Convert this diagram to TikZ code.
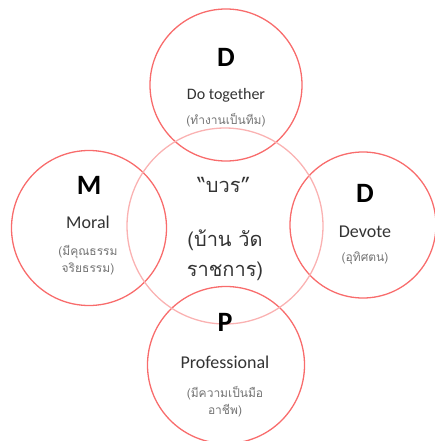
\documentclass[tikz,border=0pt]{standalone}
\usepackage{fontspec}
\setmainfont{Carlito}
\newfontfamily\thaifont[Script=Thai]{Loma}
\definecolor{RingRed}{RGB}{248,108,108}
\definecolor{CoreRed}{RGB}{250,178,178}

\begin{document}
\begin{tikzpicture}[x=1pt, y=-1pt]
  \tikzset{
    RingStyle/.style = { circle, draw = RingRed, line width = 1.3pt,
      inner sep = 0pt },
    LetterStyle/.style = { font = \fontsize{28}{30}\selectfont\bfseries,
      text = black },
    WordStyle/.style = { font = \fontsize{18}{20}\selectfont,
      text = black!80 },
    ThaiStyle/.style = { font = \thaifont\fontsize{12}{17}\selectfont,
      text = black!55, align = center },
    CoreStyle/.style = { font = \thaifont\fontsize{20}{30}\selectfont,
      text = black!80, align = center } }
  \useasboundingbox (0,0) rectangle (434,441);

  % the four outer rings and the middle one
  \node[RingStyle, minimum size = 152pt] (ringTop) at (226,85) {};
  \node[RingStyle, minimum size = 155pt] (ringLeft) at (89,228) {};
  \node[RingStyle, minimum size = 146pt] (ringRight) at (363,225) {};
  \node[RingStyle, minimum size = 157pt] (ringBottom) at (226,365) {};
  \node[RingStyle, draw = CoreRed, minimum size = 196pt] (ringCore) at (225,226) {};

  % top: D
  \node[LetterStyle] (letterTop) at (226,57) {D};
  \node[WordStyle, font = \fontsize{16}{18}\selectfont] (wordTop) at (226,95) {Do together};
  \node[ThaiStyle] (thaiTop) at (226,120) {(ทำงานเป็นทีม)};

  % left: M
  \node[LetterStyle] (letterLeft) at (89,185) {M};
  \node[WordStyle] (wordLeft) at (88,222) {Moral};
  \node[ThaiStyle] (thaiLeft) at (88,260) {(มีคุณธรรม\\จริยธรรม)};

  % right: D
  \node[LetterStyle] (letterRight) at (365,193) {D};
  \node[WordStyle] (wordRight) at (365,232) {Devote};
  \node[ThaiStyle] (thaiRight) at (365,258) {(อุทิศตน)};

  % bottom: P
  \node[LetterStyle] (letterBottom) at (225,322) {P};
  \node[WordStyle] (wordBottom) at (225,362) {Professional};
  \node[ThaiStyle] (thaiBottom) at (225,402) {(มีความเป็นมือ\\อาชีพ)};

  % middle
  \node[CoreStyle] (coreTitle) at (224,185) {“บวร”};
  \node[CoreStyle] (coreText) at (225,255) {(บ้าน วัด\\ราชการ)};
\end{tikzpicture}
\end{document}
